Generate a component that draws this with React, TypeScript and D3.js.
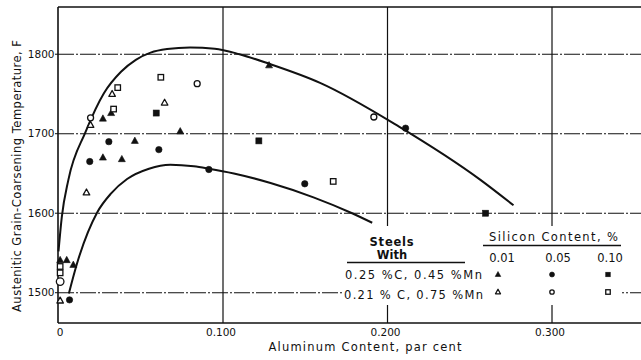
import React from 'react';
import * as d3 from 'd3';

const W = 641;
const H = 360;

const xTicks = [0, 0.1, 0.2, 0.3];
const xTickLabels = ['0', '0.100', '0.200', '0.300'];
const yTicks = [1500, 1600, 1700, 1800];
const yTickLabels = ['1500', '1600', '1700', '1800'];

// Curves (Aluminum %, Temperature F)
const upperCurve: [number, number][] = [
  [0.0, 1552], [0.002, 1595], [0.006, 1642], [0.0164, 1702], [0.0276, 1751],
  [0.038, 1778], [0.047, 1793], [0.056, 1802], [0.066, 1806.5], [0.08, 1808.5],
  [0.095, 1807], [0.11, 1800], [0.128, 1788], [0.159, 1764], [0.207, 1709],
  [0.2565, 1642], [0.2766, 1610],
];
const lowerCurve: [number, number][] = [
  [0.0063, 1499], [0.0113, 1537], [0.0235, 1601], [0.032, 1625], [0.0417, 1643],
  [0.055, 1656], [0.068, 1661], [0.0823, 1659], [0.0914, 1656], [0.1066, 1650],
  [0.1289, 1638], [0.155, 1620], [0.1785, 1600], [0.1907, 1588],
];

// 0.25%C, 0.45%Mn (filled)
const filledTriangles: [number, number][] = [
  [0.027, 1719], [0.032, 1726], [0.074, 1703], [0.0464, 1691], [0.027, 1670],
  [0.0385, 1668], [0.128, 1786], [0.001, 1541], [0.005, 1541], [0.009, 1535],
];
const filledCircles: [number, number][] = [
  [0.0306, 1690], [0.061, 1680], [0.019, 1665], [0.0914, 1655], [0.211, 1707],
  [0.1497, 1637], [0.0067, 1491],
];
const filledSquares: [number, number][] = [
  [0.0594, 1726], [0.1218, 1691], [0.2596, 1600],
];
// 0.21%C, 0.75%Mn (open)
const openTriangles: [number, number][] = [
  [0.0195, 1711], [0.0326, 1750], [0.0645, 1739], [0.017, 1626], [0.001, 1490],
];
const openCircles: [number, number][] = [
  [0.0195, 1720], [0.0843, 1763], [0.1917, 1721], [0.001, 1514],
];
const openSquares: [number, number][] = [
  [0.036, 1758], [0.0335, 1731], [0.0622, 1771], [0.167, 1640], [0.001, 1533], [0.001, 1525],
];

const siliconLabels = ['0.01', '0.05', '0.10'];
const steelLabels = ['0.25 %C, 0.45 %Mn', '0.21 % C, 0.75 %Mn'];

const INK = '#111';
const FONT = '"DejaVu Sans", "Liberation Sans", sans-serif';

const x = d3.scaleLinear().domain([0, 0.3541]).range([58.5, 641]);
const y = d3.scaleLinear().domain([1461.9, 1859.4]).range([323, 7]);

const line = d3
  .line<[number, number]>()
  .x((d) => x(d[0]))
  .y((d) => y(d[1]))
  .curve(d3.curveMonotoneX);

function Tri({ cx, cy, s, open }: { cx: number; cy: number; s: number; open?: boolean }) {
  const h = s * 0.9;
  const p = `M${cx},${cy - h * 0.6}L${cx - s / 2},${cy + h * 0.4}L${cx + s / 2},${cy + h * 0.4}Z`;
  return <path d={p} fill={open ? '#fff' : INK} stroke={INK} strokeWidth={open ? 1.3 : 0.6} strokeLinejoin="round" />;
}
function Circ({ cx, cy, r, open }: { cx: number; cy: number; r: number; open?: boolean }) {
  return <circle cx={cx} cy={cy} r={r} fill={open ? '#fff' : INK} stroke={INK} strokeWidth={open ? 1.3 : 0.6} />;
}
function Sq({ cx, cy, s, open }: { cx: number; cy: number; s: number; open?: boolean }) {
  return (
    <rect x={cx - s / 2} y={cy - s / 2} width={s} height={s} fill={open ? '#fff' : INK} stroke={INK} strokeWidth={open ? 1.3 : 0.6} />
  );
}

export default function App() {
  const left = x(0) - 0.5;
  const right = W;
  const top = y.range()[1];
  const bottom = y.range()[0];

  return (
    <svg width={W} height={H} style={{ position: 'absolute', left: 0, top: 0, background: '#fff' }} fontFamily={FONT}>
      <rect x={0} y={0} width={W} height={H} fill="#fff" />
      {/* horizontal gridlines */}
      {yTicks.map((t) => (
        <line key={'h' + t} x1={left} x2={right} y1={y(t)} y2={y(t)} stroke={INK} strokeWidth={1.1} strokeDasharray="16 2 2 2" />
      ))}
      {/* vertical gridlines */}
      {xTicks.slice(1).map((t) => (
        <line key={'v' + t} x1={x(t)} x2={x(t)} y1={top} y2={bottom} stroke={INK} strokeWidth={1.2} />
      ))}
      {/* frame */}
      <line x1={left} x2={right} y1={top} y2={top} stroke={INK} strokeWidth={1.3} />
      <line x1={left} x2={right} y1={bottom} y2={bottom} stroke={INK} strokeWidth={1.6} />
      <line x1={left} x2={left} y1={top} y2={bottom} stroke={INK} strokeWidth={1.6} />

      {/* y ticks */}
      {yTicks.map((t, i) => (
        <g key={'yt' + t}>
          <line x1={left - 3} x2={left} y1={y(t)} y2={y(t)} stroke={INK} strokeWidth={1} />
          <text x={left - 3.5} y={y(t)} dy="0.36em" textAnchor="end" fontSize={10.5} fill={INK}>
            {yTickLabels[i]}
          </text>
        </g>
      ))}
      {/* x ticks */}
      {xTicks.map((t, i) => (
        <text key={'xt' + t} x={x(t) + (i === 0 ? 1.5 : -2)} y={336} textAnchor="middle" fontSize={10.5} fill={INK}>
          {xTickLabels[i]}
        </text>
      ))}

      {/* axis titles */}
      <text x={365} y={351} textAnchor="middle" fontSize={11.5} fill={INK} textLength={193} lengthAdjust="spacing">
        Aluminum Content, par cent
      </text>
      <text
        transform="translate(21,176) rotate(-90)"
        textAnchor="middle"
        fontSize={11.5}
        fill={INK}
        textLength={272}
        lengthAdjust="spacing"
      >
        Austenitic Grain-Coarsening Temperature, F
      </text>

      {/* curves */}
      <path d={line(upperCurve) || ''} fill="none" stroke={INK} strokeWidth={2} />
      <path d={line(lowerCurve) || ''} fill="none" stroke={INK} strokeWidth={2} />

      {/* data points */}
      {filledTriangles.map((d, i) => (
        <Tri key={'ft' + i} cx={x(d[0])} cy={y(d[1])} s={7} />
      ))}
      {filledCircles.map((d, i) => (
        <Circ key={'fc' + i} cx={x(d[0])} cy={y(d[1])} r={3.2} />
      ))}
      {filledSquares.map((d, i) => (
        <Sq key={'fs' + i} cx={x(d[0])} cy={y(d[1])} s={6} />
      ))}
      {openTriangles.map((d, i) => (
        <Tri key={'ot' + i} cx={x(d[0])} cy={y(d[1])} s={6.5} open />
      ))}
      {openSquares.map((d, i) => (
        <Sq key={'os' + i} cx={x(d[0])} cy={y(d[1])} s={5.5} open />
      ))}
      {openCircles.map((d, i) => (
        <Circ key={'oc' + i} cx={x(d[0])} cy={y(d[1])} r={i === 3 ? 3.8 : 3} open />
      ))}

      {/* legend */}
      <rect x={343} y={226} width={279} height={79} fill="#fff" />
      <text x={392} y={246} textAnchor="middle" fontSize={11.5} fontWeight="bold" fill={INK} letterSpacing={0.8}>
        Steels
      </text>
      <text x={392} y={259} textAnchor="middle" fontSize={11.5} fontWeight="bold" fill={INK}>
        With
      </text>
      <line x1={347} x2={465} y1={262.5} y2={262.5} stroke={INK} strokeWidth={1.3} />
      <text x={345} y={279} fontSize={11.5} fill={INK} textLength={137} lengthAdjust="spacing">
        {steelLabels[0]}
      </text>
      <text x={344} y={299} fontSize={11.5} fill={INK} textLength={139} lengthAdjust="spacing">
        {steelLabels[1]}
      </text>
      <text x={489} y={241} fontSize={11.5} fill={INK} textLength={129} lengthAdjust="spacing">
        Silicon Content, %
      </text>
      <line x1={483} x2={621} y1={245.5} y2={245.5} stroke={INK} strokeWidth={1.3} />
      {siliconLabels.map((s, i) => (
        <text key={s} x={[502, 558, 610][i]} y={262} textAnchor="middle" fontSize={11.5} fill={INK}>
          {s}
        </text>
      ))}
      <Tri cx={498} cy={274.5} s={5.5} />
      <Circ cx={552} cy={274.5} r={2.5} />
      <Sq cx={608} cy={274.5} s={4.5} />
      <Tri cx={498} cy={292} s={5} open />
      <Circ cx={552} cy={292} r={2.2} open />
      <Sq cx={608} cy={292} s={4.5} open />
    </svg>
  );
}
